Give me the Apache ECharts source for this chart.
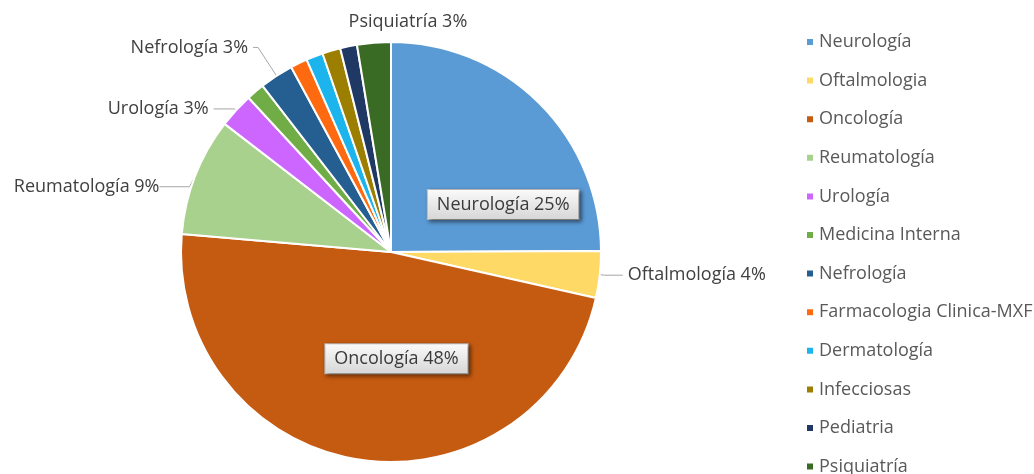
<!DOCTYPE html>
<html>
<head>
<meta charset="utf-8">
<script src="https://cdn.jsdelivr.net/npm/echarts@6/dist/echarts.min.js"></script>
<style>
  html, body { margin: 0; padding: 0; background: #fff; }
  #chart { width: 1034px; height: 474px; }
</style>
</head>
<body>
<div id="chart"></div>
<script>
const categories = [
  'Neurología', 'Oftalmologia', 'Oncología', 'Reumatología', 'Urología',
  'Medicina Interna', 'Nefrología', 'Farmacologia Clinica-MXF',
  'Dermatología', 'Infecciosas', 'Pediatria', 'Psiquiatría'
]
// share of each speciality (%)
const values = [25, 3.6, 48, 9.1, 2.7, 1.4, 2.6, 1.3, 1.3, 1.4, 1.3, 2.6]
// label text used on the chart (the original labels differ slightly from the legend)
const sliceLabels = [
  'Neurología', 'Oftalmología', 'Oncología', 'Reumatología', 'Urología',
  '', 'Nefrología', '', '', '', '', 'Psiquiatría'
]
const colors = [
  '#5B9BD5', '#FFD966', '#C55A11', '#A9D18E', '#CC66FF', '#70AD47',
  '#255E91', '#FF6A10', '#1CB4EC', '#9C7E00', '#203864', '#3A6B24'
]

const chart = echarts.init(document.getElementById('chart'))
const font = '"Open Sans", "Noto Sans", sans-serif'

const boxLabel = {
  position: 'inside',
  color: '#3a3a3a',
  fontSize: 18,
  fontFamily: font,
  padding: [6, 9, 5, 9],
  backgroundColor: {
    type: 'linear', x: 0, y: 0, x2: 0, y2: 1,
    colorStops: [{ offset: 0, color: '#fbfbfb' }, { offset: 1, color: '#d6d6d6' }]
  },
  borderColor: '#bfbfbf',
  borderWidth: 1,
  shadowColor: 'rgba(0,0,0,0.45)',
  shadowBlur: 4,
  shadowOffsetX: 2,
  shadowOffsetY: 2
}

// per-slice label tweaks (leader lengths, inside offsets, nudges)
const labelTweaks = {
  'Neurología': { inside: [36, 29] },
  'Oncología': { inside: [22, 0] },
  'Oftalmologia': { line: [5, 18] },
  'Reumatología': { line: [3, 30], move: [2, 12] },
  'Urología': { line: [2, 21] },
  'Nefrología': { line: [34, 5] },
  'Psiquiatría': { line: [8, 0], hideLine: true, nudge: [99, -13] }
}

const data = categories.map((name, i) => {
  const item = { name, value: values[i], itemStyle: { color: colors[i] } }
  const t = labelTweaks[name]
  if (!sliceLabels[i]) {
    item.label = { show: false }
    item.labelLine = { show: false }
  } else if (t && t.inside) {
    item.label = Object.assign({}, boxLabel, { offset: t.inside })
  } else if (t && t.line) {
    item.labelLine = { show: !t.hideLine, length: t.line[0], length2: t.line[1] }
  }
  return item
})

chart.setOption({
  animation: false,
  legend: {
    orient: 'vertical',
    left: 805,
    top: 33,
    height: 460,
    padding: 0,
    itemWidth: 8,
    itemHeight: 8,
    itemGap: 20.6,
    icon: 'rect',
    textStyle: { color: '#595959', fontSize: 18, fontFamily: font },
    data: categories
  },
  series: [{
    type: 'pie',
    center: [391, 252],
    radius: 210,
    startAngle: 90,
    clockwise: true,
    avoidLabelOverlap: false,
    itemStyle: { borderColor: '#fff', borderWidth: 2 },
    label: {
      show: true,
      position: 'outside',
      color: '#404040',
      fontSize: 18,
      fontFamily: font,
      formatter: p => sliceLabels[p.dataIndex] + ' ' + Math.round(p.percent) + '%'
    },
    labelLine: {
      show: true,
      length: 10,
      length2: 18,
      lineStyle: { color: '#a6a6a6', width: 1 }
    },
    labelLayout: p => {
      const t = labelTweaks[categories[p.dataIndex]]
      if (t && t.nudge) return { dx: t.nudge[0], dy: t.nudge[1] }
      if (t && t.move) {
        const r = p.labelRect
        return { x: r.x + r.width + t.move[0], y: r.y + r.height / 2 + t.move[1], align: 'right', verticalAlign: 'middle' }
      }
      return {}
    },
    emphasis: { disabled: true },
    data
  }]
})
</script>
</body>
</html>
